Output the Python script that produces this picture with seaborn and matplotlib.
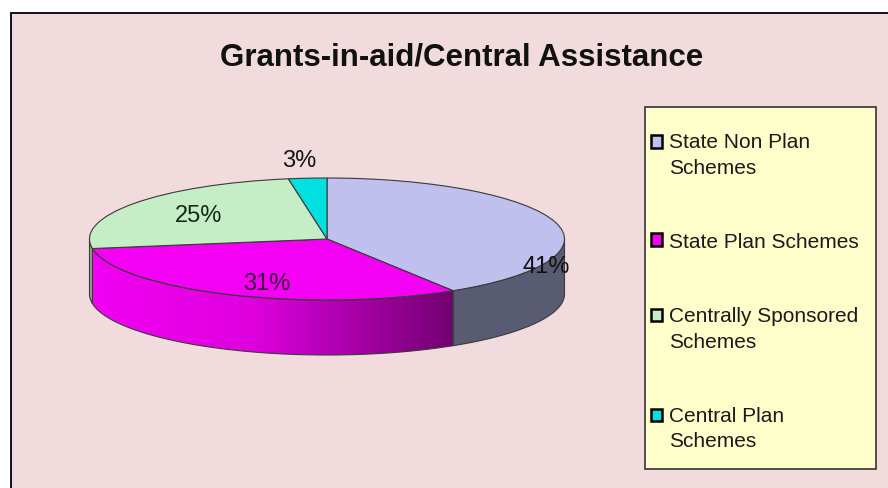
import numpy as np
import matplotlib
matplotlib.use("Agg")
import matplotlib.pyplot as plt
import seaborn as sns
from matplotlib.patches import Polygon, Rectangle
from matplotlib.colors import LinearSegmentedColormap

# ---------------- data ----------------
title = "Grants-in-aid/Central Assistance"
categories = ["State Non Plan\nSchemes", "State Plan Schemes",
              "Centrally Sponsored\nSchemes", "Central Plan\nSchemes"]
shares = [41.1, 31.4, 24.9, 2.6]

# ---------------- styles ----------------
TOP_COLORS = ["#C0C0EE", "#F400F4", "#C6EEC6", "#00E0E0"]
SIDE_COLORS = ["#595B72", None, "#8EA88E", "#009A9A"]   # None -> gradient
LABEL_COLORS = ["#111111", "#3A0A3A", "#152815", "#151515"]
# label anchors (centre x, baseline y) in pie units
LABEL_XY = [(0.922, -0.541), (-0.255, -0.820), (-0.539, 0.295), (-0.118, 1.197)]
EDGE = "#3A3A3A"

sns.set_theme(style="white")
plt.rcParams["font.family"] = ["Liberation Sans", "DejaVu Sans"]

W, H = 888, 489
fig = plt.figure(figsize=(W / 100, H / 100), dpi=100)
fig.patch.set_facecolor("white")


def fx(px):
    return px / W


def fy(py):
    return 1 - py / H


# chart area (pink) with black top/left border
fig.add_artist(Rectangle((fx(10.5), fy(520)), 1.2, fy(14) - fy(520),
                         transform=fig.transFigure, facecolor="#F1DBDC",
                         edgecolor="black", lw=1.3, zorder=0))

# ---------------- pie axes ----------------
CX, CY, RX, RY = 327, 240, 237.5, 61
DEPTH = 55 / 61
XL = (-1.15, 1.15)
YL = (-2.0, 1.6)
left_px, right_px = CX + XL[0] * RX, CX + XL[1] * RX
top_px, bottom_px = CY - YL[1] * RY, CY - YL[0] * RY
ax = fig.add_axes([fx(left_px), fy(bottom_px),
                   (right_px - left_px) / W, (bottom_px - top_px) / H])
ax.patch.set_alpha(0)

wedges, _, autotexts = ax.pie(
    shares, colors=TOP_COLORS, startangle=90, counterclock=False,
    autopct="%.0f%%",
    wedgeprops=dict(edgecolor=EDGE, linewidth=0.8, zorder=3),
    textprops=dict(fontsize=17))

cmap = LinearSegmentedColormap.from_list(
    "mag", [(0, "#F200F2"), (0.45, "#DE00DE"), (1, "#720072")])

for w, side in zip(wedges, SIDE_COLORS):
    t1, t2 = w.theta1, w.theta2
    for k in (-1, 0, 1):
        lo = max(t1, -180 + 360 * k)
        hi = min(t2, 360 * k)
        if hi <= lo:
            continue
        t = np.radians(np.linspace(lo, hi, 120))
        xs = np.concatenate([np.cos(t), np.cos(t[::-1])])
        ys = np.concatenate([np.sin(t), np.sin(t[::-1]) - DEPTH])
        poly = Polygon(np.column_stack([xs, ys]), closed=True,
                       facecolor=side if side else "none",
                       edgecolor=EDGE, lw=0.8, zorder=2.2)
        ax.add_patch(poly)
        if side is None:
            grad = np.linspace(0, 1, 256).reshape(1, -1)
            im = ax.imshow(grad, cmap=cmap, aspect="auto",
                           extent=[xs.min(), xs.max(), ys.min(), ys.max()],
                           interpolation="bicubic", zorder=2.1)
            im.set_clip_path(poly)

for txt, (lx, ly), c in zip(autotexts, LABEL_XY, LABEL_COLORS):
    txt.set_position((lx, ly))
    txt.set_ha("center")
    txt.set_va("baseline")
    txt.set_color(c)
    txt.set_zorder(6)

ax.set_aspect("auto")
ax.set_xlim(XL)
ax.set_ylim(YL)
ax.axis("off")

# ---------------- title ----------------
fig.text(fx(462), fy(66), title, ha="center", va="baseline",
         fontsize=22.5, fontweight="bold", color="#111111")

# ---------------- legend ----------------
fig.add_artist(Rectangle((fx(645), fy(470)), (876 - 645) / W, (470 - 108) / H,
                         transform=fig.transFigure, facecolor="#FFFFCC",
                         edgecolor="#333333", lw=1.2, zorder=1))
LEG_FS = 15
leg = fig.legend(wedges, categories, loc="upper left",
                 bbox_to_anchor=(fx(651), fy(133)), frameon=False,
                 borderpad=0, borderaxespad=0, handlelength=0.55,
                 handleheight=0.55, handletextpad=0.3, labelspacing=2.64,
                 fontsize=LEG_FS)
leg.set_zorder(5)
for t in leg.get_texts():
    t.set_linespacing(1.45)
    t.set_color("#1A1A1A")
for h, lab in zip(leg.legend_handles, categories):
    h.set_edgecolor("black")
    h.set_linewidth(1.8)
    if "\n" in lab:
        h.set_y(h.get_y() + 9.5)

fig.savefig("out.png", dpi=100, facecolor=fig.get_facecolor())
